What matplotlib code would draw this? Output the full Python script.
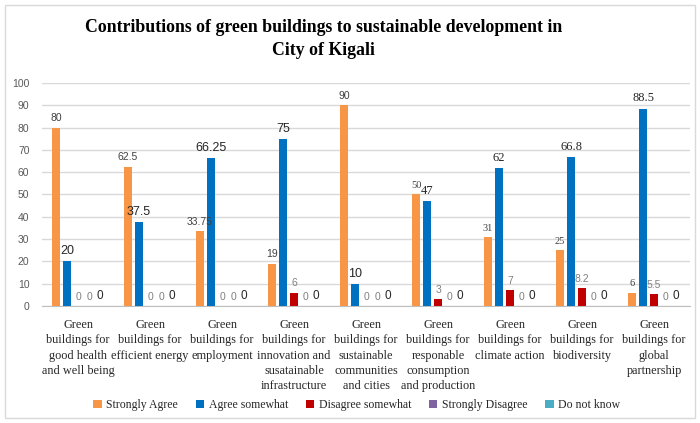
import numpy as np
import matplotlib
matplotlib.use("Agg")
import matplotlib.pyplot as plt
from matplotlib.patches import Rectangle

# data
categories = [
    "Green\nbuildings for\ngood health\nand well being",
    "Green\nbuildings for\nefficient energy",
    "Green\nbuildings for\nemployment",
    "Green\nbuildings for\ninnovation and\nsusatainable\ninfrastructure",
    "Green\nbuildings for\nsustainable\ncommunities\nand cities",
    "Green\nbuildings for\nresponable\nconsumption\nand production",
    "Green\nbuildings for\nclimate action",
    "Green\nbuildings for\nbiodiversity",
    "Green\nbuildings for\nglobal\npartnership",
]
series_names = ["Strongly Agree", "Agree somewhat", "Disagree somewhat",
                "Strongly Disagree", "Do not know"]
strongly_agree = [80, 62.5, 33.75, 19, 90, 50, 31, 25, 6]
agree_somewhat = [20, 37.5, 66.25, 75, 10, 47, 62, 66.8, 88.5]
disagree_somewhat = [0, 0, 0, 6, 0, 3, 7, 8.2, 5.5]
strongly_disagree = [0, 0, 0, 0, 0, 0, 0, 0, 0]
do_not_know = [0, 0, 0, 0, 0, 0, 0, 0, 0]

series = [strongly_agree, agree_somewhat, disagree_somewhat,
          strongly_disagree, do_not_know]
colors = ["#F79646", "#0070C0", "#C00000", "#8064A2", "#4BACC6"]

# label style per series: (size, color)
lab_style = [(7.5, "#404040"), (9, "#262626"), (7.5, "#808080"),
             (7.5, "#808080"), (8.5, "#262626")]

sans = ["Liberation Sans", "DejaVu Sans"]
serif = ["Liberation Serif", "DejaVu Serif"]

fig = plt.figure(figsize=(7, 4.23), dpi=100)
ax = fig.add_axes([0.06, 0.2766, 0.926, 0.5272])

x = np.arange(len(categories))
step = 0.153
width = 0.118

for i, (vals, name, col) in enumerate(zip(series, series_names, colors)):
    pos = x + (i - 2) * step
    bars = ax.bar(pos, vals, width, color=col, label=name, zorder=3)
    size, tc = lab_style[i]
    for j, (b, v) in enumerate(zip(bars, vals)):
        fam = serif if (j >= 5 and i < 2) else sans
        txt = f"{v:g}"
        ax.annotate(txt, (b.get_x() + b.get_width() / 2, v),
                    xytext=(0, 3), textcoords="offset points",
                    ha="center", va="bottom", fontsize=size,
                    color=tc, family=fam, zorder=6)

ax.set_xlim(-0.5, len(categories) - 0.5)
ax.set_ylim(0, 100)
ax.set_yticks(range(0, 101, 10))
ax.yaxis.grid(True, color="#D9D9D9", linewidth=1, zorder=0)
ax.set_axisbelow(True)
for s in ["top", "right", "left"]:
    ax.spines[s].set_visible(False)
ax.spines["bottom"].set_color("#BFBFBF")
ax.tick_params(axis="both", length=0)
ax.tick_params(axis="y", pad=9, labelsize=7.5, labelcolor="#595959")
for t in ax.get_yticklabels():
    t.set_family(sans)

ax.set_xticks(x)
ax.set_xticklabels(categories, fontsize=8.8, family=serif,
                   color="#262626", linespacing=1.36)
ax.tick_params(axis="x", pad=9.5)

fig.text(0.462, 0.908,
         "Contributions of green buildings to sustainable development in\nCity of Kigali",
         ha="center", va="center", fontsize=12.8, fontweight="bold",
         family=serif, linespacing=1.4)

leg = fig.legend(loc="center", bbox_to_anchor=(0.51, 0.043), ncol=5,
                 frameon=False, prop={"family": serif, "size": 8.5},
                 handlelength=0.7, handleheight=0.7, handletextpad=0.4,
                 columnspacing=1.5)
for t in leg.get_texts():
    t.set_color("#262626")

fig.patches.append(Rectangle((5 / 700, 5 / 423), 690 / 700, 413 / 423,
                             transform=fig.transFigure, fill=False,
                             edgecolor="#D9D9D9", linewidth=1))

fig.savefig("out.png", dpi=100, facecolor="white")
